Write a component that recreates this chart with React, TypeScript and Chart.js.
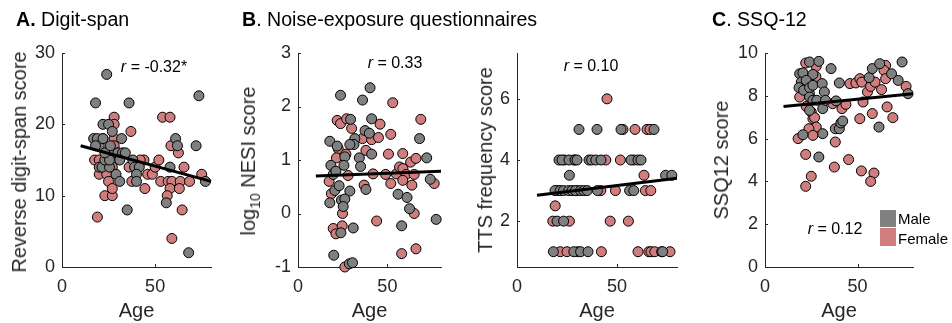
import React, { useEffect, useRef } from 'react';
import { Chart, registerables } from 'chart.js';

Chart.register(...registerables);

// ---------- data ----------
const ageTicks = [0, 50];
const fitAges = [10, 80];

// A. Digit-span
const digitTicks = [0, 10, 20, 30];
const digitMaleAge = [24, 18, 36, 73.5, 17, 19, 22, 25, 27, 32, 27.5, 30, 32.5, 34, 31, 38, 39, 41.5, 40, 40, 29, 31, 20, 21.5, 25.5, 23, 25.5, 35, 58, 61, 62, 72, 56, 68, 77, 20, 18, 22, 23, 26];
const digitMaleScore = [27, 23, 23, 24, 18, 18, 20, 20, 19, 18, 16, 16, 16, 16, 15, 15, 14, 14, 13, 12, 13, 12, 14, 14, 14, 15, 15, 8, 14, 18, 17, 17, 9, 2, 12, 17, 17, 18, 16, 17];
const digitFemaleAge = [19, 28, 28, 37, 54, 58, 17.5, 20, 24, 25, 23, 27, 27, 27, 28, 28, 36, 37.5, 44, 46, 44.5, 48.5, 50, 52, 53, 57, 59, 58, 56.5, 58.5, 62.5, 63.5, 63, 64.5, 59, 65.5, 68.5, 75, 22, 24, 30, 42, 20];
const digitFemaleScore = [7, 21, 20, 19, 21, 21, 15, 13, 13, 12, 10, 10, 11, 14, 18, 17, 14, 12, 15, 13, 11, 13, 14, 15, 12, 12, 12, 11, 10, 17, 16, 12, 11, 8, 4, 14, 12, 13, 18, 16, 16, 15, 15];
const digitFit = [17, 12];

// B. NESI
const nesiTicks = [-1, 0, 1, 2, 3];
const nesiMaleAge = [23.8, 40.3, 36.1, 29.4, 41.2, 37.5, 39.9, 17.8, 21.9, 31.8, 31.3, 29, 68, 41.2, 34.3, 35, 26.2, 25.7, 18.4, 19.7, 21.2, 72, 74, 20.6, 23, 29, 38, 17.8, 24.3, 26.2, 25.3, 56, 61, 62.4, 77.3, 30.9, 24, 20, 28.7, 30.5, 58];
const nesiMaleScore = [2.21, 2.35, 2.12, 1.76, 1.77, 1.55, 1.5, 1.35, 1.26, 1.4, 1.29, 1.29, 1.4, 1.11, 1.04, 0.88, 1.06, 0.9, 0.9, 0.73, 0.79, 1.04, 0.64, 0.43, 0.52, 0.42, 0.45, 0.2, 0.25, 0.27, 0.13, 0.36, 0.3, 0.09, -0.11, -0.27, -0.36, -0.78, -0.94, -0.92, -0.23];
const nesiFemaleAge = [53, 68.7, 21.9, 23.8, 27.2, 30, 45.9, 51.9, 36.1, 41.2, 45, 22.5, 38, 50.6, 58.6, 63, 66, 21.5, 26.8, 28, 42, 49, 55, 56.8, 58.7, 60.5, 58.6, 51.9, 65, 63.7, 76.2, 17.4, 37, 18.7, 24.9, 65, 44, 19.7, 21.2, 24.7, 58, 66, 26.2];
const nesiFemaleScore = [2.07, 1.76, 1.74, 1.68, 1.77, 1.59, 1.67, 1.48, 1.4, 1.38, 1.42, 1.21, 1.18, 1.11, 1.12, 0.96, 1.03, 1.04, 1.11, 0.71, 0.74, 0.73, 0.74, 0.87, 0.84, 0.73, 0.62, 0.56, 0.73, 0.53, 0.56, 0.6, 0.53, 0.37, 0, 0, -0.14, -0.28, -0.38, -0.23, -0.75, -0.66, -1.0];
const nesiFit = [0.7, 0.79];

// B. TTS frequency
const ttsTicks = [2, 4, 6];
const ttsMaleAge = [31, 40, 52, 68.5, 21, 22.5, 26, 29, 30, 36, 37.3, 39.4, 42, 57, 60.5, 62, 26.2, 74.3, 77.4, 19, 21.6, 23.3, 25.8, 27.5, 29.2, 31.8, 33.4, 35.1, 40.2, 56.3, 58.4, 20, 23.3, 18.2, 28.4, 31.8, 35.5, 72.8];
const ttsMaleScore = [5, 5, 5, 5, 4, 4, 4, 4, 4, 4, 4, 4, 4, 4, 4, 4, 3.5, 3.5, 3.5, 3, 3, 3, 3, 3, 3, 3, 3, 3, 3, 3, 3, 2, 2, 1, 1, 1, 1, 1];
const ttsFemaleAge = [45, 53, 59, 65, 66.5, 23.6, 28.4, 44.4, 51.7, 58.4, 63.5, 20.5, 30, 41.9, 49.2, 64.2, 66.9, 19.1, 17.9, 26.2, 46.6, 55.7, 21.6, 25, 30.4, 42.2, 60.5, 65.9, 67, 68.9, 72.3, 76.5];
const ttsFemaleScore = [6, 5, 5, 5, 5, 4, 4, 4, 4, 4, 3.5, 3, 3, 3, 3, 3, 3, 2.5, 2, 2, 2, 2, 1, 1, 1, 1, 1, 1, 1, 1, 1, 1];
const ttsFit = [2.85, 3.4];

// C. SSQ-12
const ssqTicks = [0, 2, 4, 6, 8, 10];
const ssqMaleAge = [24.1, 29.1, 18.75, 20.5, 25.9, 19.6, 22.3, 18.4, 20.9, 24.1, 25.9, 30.9, 32.1, 35.7, 40.2, 24.1, 25.9, 28, 24.1, 31.2, 32.7, 38.4, 38, 40.2, 41, 42, 20.5, 31.2, 29.1, 56.3, 58, 62, 68.4, 74.1, 72, 77.3, 61.6];
const ssqMaleScore = [9.58, 9.61, 9.03, 9.07, 9.0, 8.64, 8.72, 8.38, 8.26, 8.38, 8.49, 8.57, 8.18, 9.27, 8.6, 7.94, 7.79, 7.79, 7.32, 7.4, 7.79, 7.76, 6.46, 6.46, 6.73, 6.82, 6.18, 6.23, 5.14, 8.85, 9.27, 9.5, 9.03, 9.58, 8.72, 8.1, 6.54];
const ssqFemaleAge = [22, 27.7, 18.75, 22.3, 25, 25.9, 26.8, 27.7, 23.75, 17.9, 25.9, 22, 25, 22, 36.6, 41.6, 43.75, 45.9, 49.1, 51.25, 52.3, 53, 55.4, 57.1, 59.5, 65.2, 64.3, 65.2, 63, 58, 66, 69.1, 51.25, 38, 37.5, 45.2, 52.1, 58.9, 57.1, 76.25, 27.5, 24];
const ssqFemaleScore = [9.53, 9.38, 7.94, 7.5, 7.24, 6.93, 6.98, 6.54, 6.46, 6.0, 6.15, 5.26, 4.24, 3.77, 7.63, 7.4, 7.6, 8.57, 8.6, 8.8, 8.64, 7.71, 8.18, 8.44, 8.64, 9.42, 9.19, 8.8, 8.29, 7.17, 7.48, 6.98, 6.93, 5.84, 4.67, 5.02, 4.49, 4.39, 4.0, 8.44, 8.9, 8.1];
const ssqFit = [7.5, 8.1];

// ---------- style ----------
const FONT = "'Liberation Sans', Arial, Helvetica, sans-serif";
const TEXT = '#262626';
const GRAY = '#808080';
const PINK = '#d07d7d';

const toPts = (xs: number[], ys: number[]) => xs.map((x, i) => ({ x, y: ys[i] }));

const inwardTicks = {
  id: 'inwardTicks',
  afterDraw(chart: any) {
    const { ctx, chartArea } = chart;
    const xs = chart.scales.x;
    const ys = chart.scales.y;
    ctx.save();
    ctx.strokeStyle = TEXT;
    ctx.lineWidth = 1;
    ctx.beginPath();
    xs.ticks.forEach((t: any) => {
      const px = Math.round(xs.getPixelForValue(t.value)) + 0.5;
      ctx.moveTo(px, chartArea.bottom);
      ctx.lineTo(px, chartArea.bottom - 3);
    });
    ys.ticks.forEach((t: any) => {
      const py = Math.round(ys.getPixelForValue(t.value)) + 0.5;
      ctx.moveTo(chartArea.left, py);
      ctx.lineTo(chartArea.left + 3, py);
    });
    ctx.stroke();
    ctx.restore();
  },
};

type PanelProps = {
  left: number;
  width: number;
  yAxisWidth: number;
  padRight: number;
  yMin: number;
  yMax: number;
  yTicks: number[];
  maleAge: number[];
  maleScore: number[];
  femaleAge: number[];
  femaleScore: number[];
  fit: number[];
};

function Panel(p: PanelProps) {
  const ref = useRef<HTMLCanvasElement>(null);
  useEffect(() => {
    const chart = new Chart(ref.current as HTMLCanvasElement, {
      type: 'scatter',
      data: {
        datasets: [
          {
            type: 'line',
            label: 'fit',
            data: toPts(fitAges, p.fit),
            borderColor: '#000',
            borderWidth: 3,
            pointRadius: 0,
            showLine: true,
            order: 0,
            clip: false,
          } as any,
          {
            label: 'Male',
            data: toPts(p.maleAge, p.maleScore),
            backgroundColor: GRAY,
            borderColor: '#000',
            borderWidth: 1,
            pointRadius: 5,
            order: 1,
            clip: false,
          },
          {
            label: 'Female',
            data: toPts(p.femaleAge, p.femaleScore),
            backgroundColor: PINK,
            borderColor: '#000',
            borderWidth: 1,
            pointRadius: 5,
            order: 2,
            clip: false,
          },
        ],
      },
      options: {
        animation: false,
        responsive: false,
        devicePixelRatio: 1,
        layout: { padding: { top: 53, right: p.padRight, bottom: 0, left: 0 } },
        plugins: { legend: { display: false }, tooltip: { enabled: false } },
        scales: {
          x: {
            type: 'linear',
            min: 0,
            max: 80,
            afterBuildTicks: (s: any) => {
              s.ticks = ageTicks.map((v) => ({ value: v }));
            },
            afterFit: (s: any) => {
              s.height = 56;
            },
            grid: { display: false, drawTicks: false },
            border: { display: true, color: TEXT, width: 1 },
            ticks: { padding: 9, color: TEXT, font: { family: FONT, size: 18 }, maxRotation: 0 },
            title: { display: true, text: 'Age', color: TEXT, font: { family: FONT, size: 20 }, padding: 0 },
          },
          y: {
            type: 'linear',
            min: p.yMin,
            max: p.yMax,
            afterBuildTicks: (s: any) => {
              s.ticks = p.yTicks.map((v) => ({ value: v }));
            },
            afterFit: (s: any) => {
              s.width = p.yAxisWidth;
            },
            grid: { display: false, drawTicks: false },
            border: { display: true, color: TEXT, width: 1 },
            ticks: { padding: 7, color: TEXT, font: { family: FONT, size: 18 } },
          },
        },
      },
      plugins: [inwardTicks],
    });
    return () => chart.destroy();
  }, []);
  return (
    <canvas
      ref={ref}
      width={p.width}
      height={323}
      style={{ position: 'absolute', left: p.left, top: 0, width: p.width, height: 323 }}
    />
  );
}

function Txt(props: { x: number; y: number; size: number; children: any; anchor?: 'left' | 'center'; color?: string }) {
  return (
    <div
      style={{
        position: 'absolute',
        left: props.x,
        top: props.y,
        transform: props.anchor === 'center' ? 'translate(-50%, -50%)' : 'translate(0, -50%)',
        fontSize: props.size,
        lineHeight: 1,
        whiteSpace: 'nowrap',
        fontFamily: FONT,
        color: props.color || TEXT,
      }}
    >
      {props.children}
    </div>
  );
}

function YTitle(props: { x: number; y: number; children: any }) {
  return (
    <div
      style={{
        position: 'absolute',
        left: props.x,
        top: props.y,
        transform: 'translate(-50%, -50%) rotate(-90deg)',
        fontSize: 20,
        lineHeight: 1,
        whiteSpace: 'nowrap',
        fontFamily: FONT,
        color: TEXT,
      }}
    >
      {props.children}
    </div>
  );
}

export default function App() {
  return (
    <div style={{ position: 'absolute', left: 0, top: 0, width: 952, height: 323, background: '#fff', overflow: 'hidden' }}>
      <Panel left={0} width={230} yAxisWidth={62} padRight={19} yMin={0} yMax={30} yTicks={digitTicks}
        maleAge={digitMaleAge} maleScore={digitMaleScore} femaleAge={digitFemaleAge} femaleScore={digitFemaleScore} fit={digitFit} />
      <Panel left={230} width={230} yAxisWidth={68} padRight={19} yMin={-1} yMax={3} yTicks={nesiTicks}
        maleAge={nesiMaleAge} maleScore={nesiMaleScore} femaleAge={nesiFemaleAge} femaleScore={nesiFemaleScore} fit={nesiFit} />
      <Panel left={460} width={240} yAxisWidth={57} padRight={23} yMin={0.5} yMax={7.5} yTicks={ttsTicks}
        maleAge={ttsMaleAge} maleScore={ttsMaleScore} femaleAge={ttsFemaleAge} femaleScore={ttsFemaleScore} fit={ttsFit} />
      <Panel left={700} width={252} yAxisWidth={65} padRight={39} yMin={0} yMax={10} yTicks={ssqTicks}
        maleAge={ssqMaleAge} maleScore={ssqMaleScore} femaleAge={ssqFemaleAge} femaleScore={ssqFemaleScore} fit={ssqFit} />

      <Txt x={16} y={20} size={19.6} color="#000"><b>A.</b> Digit-span</Txt>
      <Txt x={242} y={20} size={19.6} color="#000"><b>B</b>. Noise-exposure questionnaires</Txt>
      <Txt x={712} y={20} size={19.6} color="#000"><b>C</b>. SSQ-12</Txt>

      <YTitle x={19} y={162}>Reverse digit-span score</YTitle>
      <YTitle x={250} y={161}>log<sub style={{ fontSize: 14 }}>10</sub> NESI score</YTitle>
      <YTitle x={485} y={160}>TTS frequency score</YTitle>
      <YTitle x={721} y={160}>SSQ12 score</YTitle>

      <Txt x={154} y={67} size={16} anchor="center" color="#000"><i>r</i> = -0.32*</Txt>
      <Txt x={395} y={63} size={16} anchor="center" color="#000"><i>r</i> = 0.33</Txt>
      <Txt x={591} y={66} size={16} anchor="center" color="#000"><i>r</i> = 0.10</Txt>
      <Txt x={835} y={229} size={16} anchor="center" color="#000"><i>r</i> = 0.12</Txt>

      <div style={{ position: 'absolute', left: 880, top: 210, width: 16, height: 17, background: GRAY }} />
      <div style={{ position: 'absolute', left: 880, top: 228, width: 16, height: 18, background: PINK }} />
      <Txt x={898} y={218} size={15} color="#000">Male</Txt>
      <Txt x={898} y={238} size={15} color="#000">Female</Txt>
    </div>
  );
}
